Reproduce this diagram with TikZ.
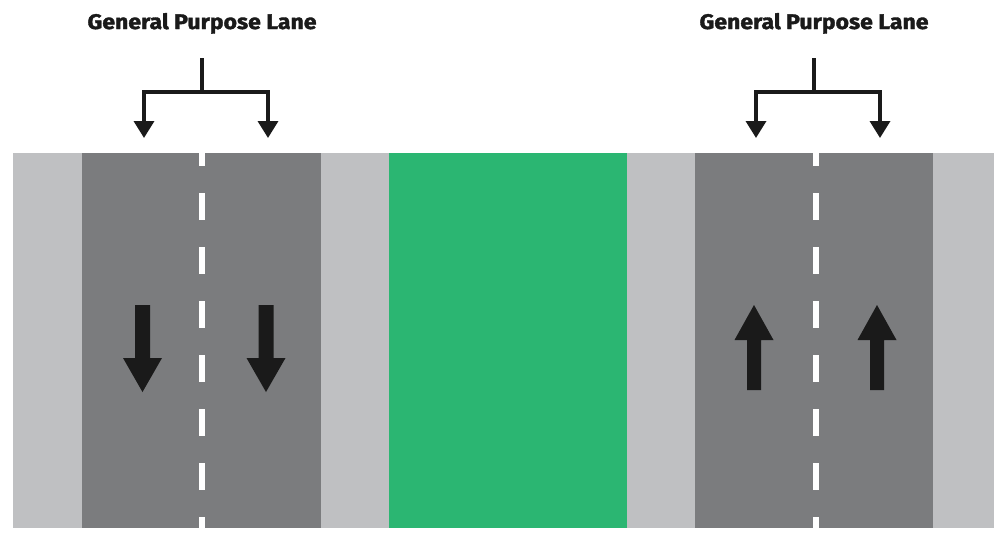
\documentclass[tikz,border=0pt]{standalone}
\usepackage{fontspec}
\setmainfont{Fira Sans}
\newfontfamily\lblfont{Fira Sans}[BoldFeatures={FakeBold=1.6}]
\usetikzlibrary{arrows.meta}
\definecolor{shoulder}{RGB}{191,192,194}
\definecolor{lane}{RGB}{123,124,126}
\definecolor{median}{RGB}{43,182,114}
\definecolor{ink}{RGB}{26,26,26}
\tikzset{
  lbl/.style={inner sep=0pt, anchor=base, text=ink},
  brk/.style={draw=ink, line width=3.5pt, line cap=butt},
  brkarrow/.style={brk, -{Triangle[width=20pt,length=17pt]}},
  dashline/.style={draw=white, line width=6pt, dash pattern=on 27pt off 27pt, dash phase=14pt},
  lanearrow/.style={fill=ink}
}
\newcommand{\lanelabel}{\resizebox{229pt}{16pt}{\lblfont\bfseries General Purpose Lane}}
\begin{document}
\begin{tikzpicture}[x=1pt,y=-1pt]
\useasboundingbox (0,0) rectangle (994,539);
\fill[white] (0,0) rectangle (994,539);
% road surfaces
\fill[shoulder] (13,153) rectangle (994,528);
\fill[lane] (82,153) rectangle (321,528);
\fill[lane] (695,153) rectangle (933,528);
\fill[median] (389,153) rectangle (627,528);
% lane dividers
\draw[dashline] (202,153) -- (202,528);
\draw[dashline] (816,153) -- (816,528);
% labels
\node[lbl] (lblL) at (202,29) {\lanelabel};
\node[lbl] (lblR) at (814,29) {\lanelabel};
% bracket left
\coordinate (sL) at (202,58);
\coordinate (jL) at (202,92);
\coordinate (aL) at (144,138);
\coordinate (bL) at (268,138);
\draw[brk] (sL) -- (jL);
\draw[brkarrow] (jL) -| (aL);
\draw[brkarrow] (jL) -| (bL);
% bracket right
\coordinate (sR) at (814,58);
\coordinate (jR) at (814,92);
\coordinate (aR) at (756,138);
\coordinate (bR) at (880,138);
\draw[brk] (sR) -- (jR);
\draw[brkarrow] (jR) -| (aR);
\draw[brkarrow] (jR) -| (bR);
% lane arrows down (left carriageway)
\foreach \cx in {142.5,266}{
  \fill[lanearrow] (\cx-7.5,305) -- (\cx+7.5,305) -- (\cx+7.5,358) -- (\cx+19.5,358)
     -- (\cx,392) -- (\cx-19.5,358) -- (\cx-7.5,358) -- cycle;
}
% lane arrows up (right carriageway)
\foreach \cx in {754,877}{
  \fill[lanearrow] (\cx-7,390) -- (\cx+7,390) -- (\cx+7,340) -- (\cx+19.5,340)
     -- (\cx,305) -- (\cx-19.5,340) -- (\cx-7,340) -- cycle;
}
\end{tikzpicture}
\end{document}
